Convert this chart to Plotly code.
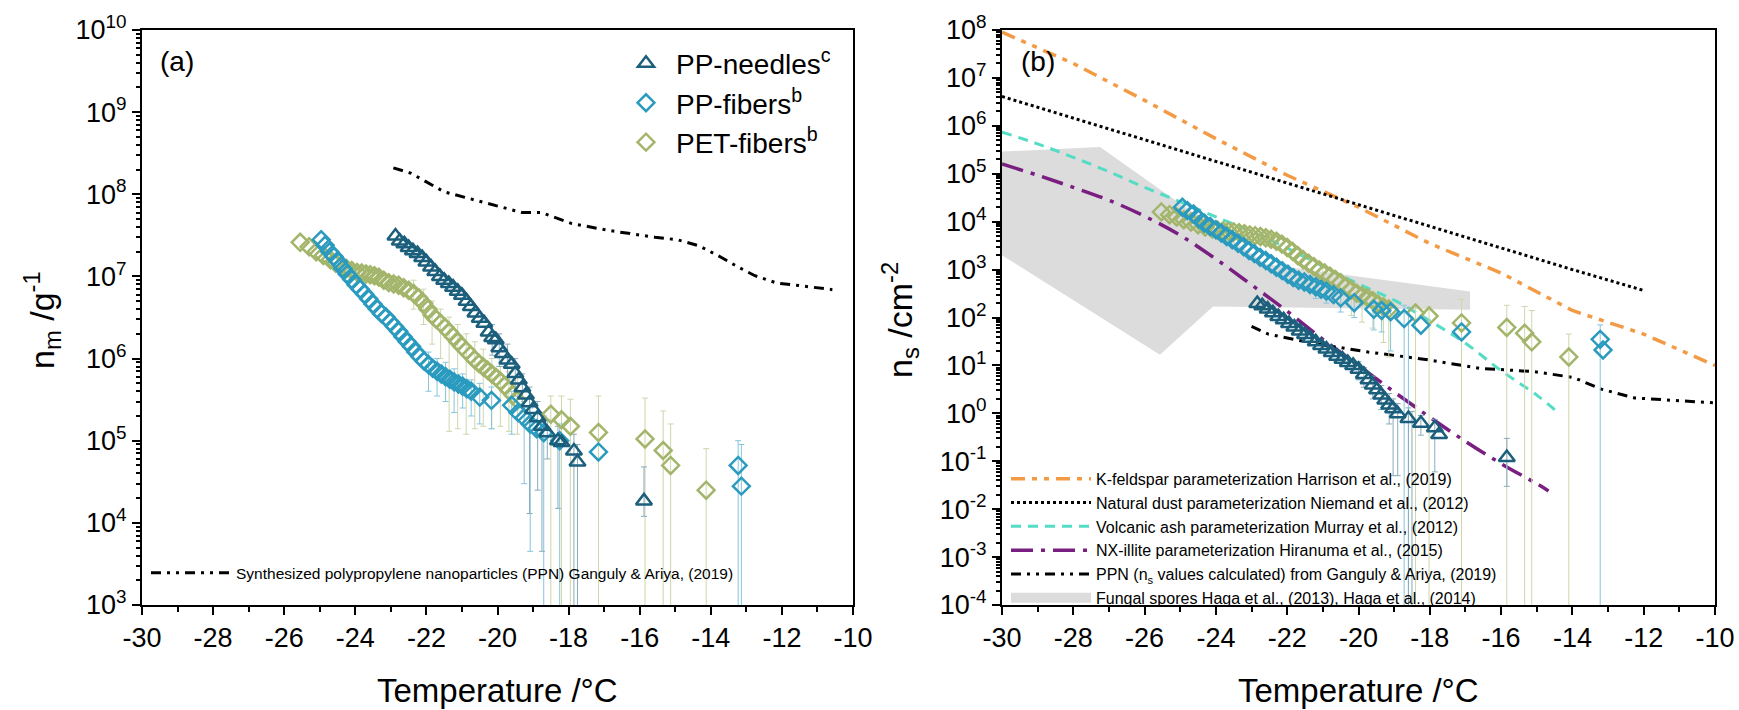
import plotly.graph_objects as go
import numpy as np

# ---------------- Panel (a): n_m (g^-1) ----------------
needles_T_a = [-22.87, -22.75, -22.62, -22.5, -22.38, -22.25, -22.12, -22.0, -21.87, -21.75,
               -21.62, -21.5, -21.37, -21.25, -21.12, -21.0, -20.87, -20.75, -20.62, -20.5,
               -20.37, -20.25, -20.15, -20.05, -19.95, -19.85, -19.72, -19.6, -19.5, -19.4,
               -19.3, -19.2, -19.1, -19.0, -18.87, -18.75, -18.6, -18.3, -18.2, -17.85, -17.75, -15.88]
needles_nm = [3.1e7, 2.7e7, 2.5e7, 2.25e7, 2.05e7, 1.9e7, 1.7e7, 1.5e7, 1.3e7, 1.15e7,
              1.0e7, 9.0e6, 8.2e6, 7.4e6, 6.6e6, 5.9e6, 5.0e6, 4.3e6, 3.6e6, 3.1e6,
              2.7e6, 2.1e6, 1.8e6, 1.7e6, 1.35e6, 1.15e6, 9.6e5, 8.5e5, 6.6e5, 5.5e5,
              4.4e5, 3.6e5, 2.9e5, 2.4e5, 1.9e5, 1.5e5, 1.25e5, 1.0e5, 9.5e4, 7.5e4, 5.5e4, 1.85e4]

fibers_T_a = [-24.96, -24.85, -24.72, -24.6, -24.47, -24.35, -24.23, -24.1, -23.98, -23.86,
              -23.74, -23.62, -23.5, -23.38, -23.26, -23.14, -23.02, -22.9, -22.78, -22.66,
              -22.54, -22.42, -22.3, -22.18, -22.06, -21.94, -21.82, -21.7, -21.58, -21.46,
              -21.34, -21.22, -21.1, -20.98, -20.86, -20.74, -20.5, -20.17, -19.6, -19.42,
              -19.25, -19.08, -18.9, -18.7, -18.25, -17.16, -13.23, -13.14]
fibers_nm = [2.8e7, 2.4e7, 2.0e7, 1.75e7, 1.5e7, 1.25e7, 1.07e7, 9.2e6, 7.9e6, 7.0e6,
             6.1e6, 5.3e6, 4.6e6, 4.0e6, 3.5e6, 3.2e6, 2.8e6, 2.45e6, 2.15e6, 1.85e6,
             1.6e6, 1.4e6, 1.2e6, 1.05e6, 9.3e5, 8.4e5, 7.6e5, 7.0e5, 6.5e5, 6.0e5,
             5.6e5, 5.2e5, 4.9e5, 4.6e5, 4.3e5, 4.0e5, 3.4e5, 3.1e5, 2.7e5, 2.2e5,
             1.9e5, 1.6e5, 1.4e5, 1.25e5, 1.0e5, 7.3e4, 5.0e4, 2.8e4]

pet_T_a = [-25.55, -25.3, -25.1, -24.9, -24.7, -24.55, -24.4, -24.25, -24.1, -23.95,
           -23.82, -23.7, -23.58, -23.46, -23.34, -23.2, -23.06, -22.92, -22.78, -22.64,
           -22.5, -22.36, -22.22, -22.08, -21.96, -21.84, -21.72, -21.6, -21.48, -21.36,
           -21.24, -21.12, -21.0, -20.88, -20.76, -20.64, -20.52, -20.4, -20.28, -20.16,
           -20.04, -19.92, -19.8, -19.68, -19.56, -19.44, -18.5, -18.2, -17.95, -17.16,
           -15.85, -15.34, -15.13, -14.13]
pet_nm = [2.6e7, 2.3e7, 2.0e7, 1.8e7, 1.6e7, 1.45e7, 1.35e7, 1.25e7, 1.18e7, 1.12e7,
          1.1e7, 1.07e7, 1.05e7, 1.02e7, 9.8e6, 9.0e6, 8.4e6, 8.1e6, 7.8e6, 7.3e6,
          6.8e6, 6.2e6, 5.5e6, 4.7e6, 4.0e6, 3.4e6, 3.0e6, 2.7e6, 2.4e6, 2.1e6,
          1.85e6, 1.6e6, 1.4e6, 1.25e6, 1.1e6, 9.7e5, 8.7e5, 7.9e5, 7.2e5, 6.5e5,
          5.9e5, 5.3e5, 4.7e5, 4.1e5, 3.6e5, 3.1e5, 2.1e5, 1.8e5, 1.5e5, 1.26e5,
          1.05e5, 7.6e4, 5.0e4, 2.5e4]

ppn_T_a = [-22.93, -22.43, -21.5, -20.41, -19.31, -18.77, -17.91, -16.82, -15.57, -14.94,
           -14.32, -13.7, -13.23, -12.76, -12.14, -11.36, -10.58]
ppn_nm = [2.1e8, 1.8e8, 1.07e8, 8.0e7, 6.0e7, 6.0e7, 4.4e7, 3.6e7, 3.0e7, 2.8e7,
          2.35e7, 1.7e7, 1.3e7, 1.02e7, 8.3e6, 7.6e6, 6.9e6]

# error bars (a): temperature, lower bound, upper bound
needles_errT_a = [-20.15, -19.95, -19.72, -19.5, -19.3, -19.1, -18.87, -18.75, -18.6, -18.3, -17.85, -17.75, -15.88]
needles_errlo_a = [1.1e6, 8e5, 5.5e5, 3.5e5, 2.3e5, 1.3e4, 2.5e4, 4.5e3, 6e4, 1.5e4, 1e-3, 1e-3, 1.2e4]
needles_errhi_a = [2.6e6, 2.0e6, 1.5e6, 1.0e6, 6.5e5, 4.5e5, 3e5, 2.2e5, 1.8e5, 1.5e5, 1.2e5, 9e4, 4.8e4]

fibers_errT_a = [-21.94, -21.7, -21.46, -21.22, -20.98, -20.74, -20.5, -20.17, -19.6, -19.25, -19.08, -18.7, -18.25, -13.23, -13.14]
fibers_errlo_a = [4e5, 3.5e5, 3e5, 2.2e5, 2.5e5, 2e5, 1.6e5, 1.4e5, 1.2e5, 3e4, 4.5e3, 1e-3, 1e-3, 1e-3, 1e-3]
fibers_errhi_a = [1.2e6, 1.0e6, 9e5, 7.5e5, 6.5e5, 5.5e5, 5e5, 4.5e5, 4e5, 3e5, 2.5e5, 2e5, 1.6e5, 1.0e5, 9e4]

pet_errT_a = [-22.36, -22.08, -21.84, -21.6, -21.36, -21.12, -20.88, -20.64, -20.4, -20.16, -19.92, -19.68,
              -19.44, -18.5, -18.2, -17.95, -17.16, -15.85, -15.34, -15.13, -14.13]
pet_errlo_a = [4e6, 2.6e6, 1.5e6, 1.0e6, 1.3e5, 1.4e5, 1.2e5, 1.4e5, 1.5e5, 1.4e5, 1.5e5, 1.3e5,
               1.2e5, 1e-3, 1e-3, 1e-3, 1e-3, 1e-3, 1e-3, 1e-3, 1e-3]
pet_errhi_a = [9e6, 7e6, 5e6, 4e6, 3.2e6, 2.6e6, 2.0e6, 1.6e6, 1.3e6, 1.0e6, 8e5, 7e5,
               6e5, 3.5e5, 3.5e5, 3.2e5, 3.5e5, 3.3e5, 2.3e5, 1.6e5, 8e4]

# ---------------- Panel (b): n_s (cm^-2) ----------------
needles_T_b = [-22.84, -22.7, -22.55, -22.4, -22.25, -22.1, -21.95, -21.8, -21.65, -21.5,
               -21.35, -21.2, -21.05, -20.9, -20.75, -20.6, -20.45, -20.3, -20.15, -20.0,
               -19.85, -19.72, -19.6, -19.48, -19.36, -19.25, -19.14, -19.03, -18.9, -18.6,
               -18.25, -17.86, -17.74, -15.84]
needles_ns = [195, 175, 150, 125, 105, 90, 75, 63, 52, 44,
              37, 31, 26, 22, 18.5, 15.5, 13.5, 11.5, 10, 8.3,
              6.5, 5.0, 3.9, 3.1, 2.4, 1.9, 1.5, 1.25, 0.98, 0.78,
              0.62, 0.5, 0.36, 0.12]

fibers_T_b = [-24.94, -24.8, -24.63, -24.48, -24.32, -24.16, -24.0, -23.85, -23.7, -23.54,
              -23.38, -23.22, -23.07, -22.92, -22.76, -22.6, -22.45, -22.3, -22.14, -21.98,
              -21.83, -21.68, -21.52, -21.36, -21.2, -21.05, -20.9, -20.7, -20.5, -20.12,
              -19.57, -19.35, -19.1, -18.72, -18.25, -17.11, -13.22, -13.14]
fibers_ns = [2.0e4, 1.7e4, 1.45e4, 1.15e4, 9.3e3, 7.9e3, 6.8e3, 5.8e3, 4.9e3, 4.2e3,
             3.55e3, 3.0e3, 2.5e3, 2.15e3, 1.8e3, 1.55e3, 1.32e3, 1.12e3, 950, 800,
             680, 600, 550, 490, 440, 390, 355, 300, 257, 204,
             148, 140, 132, 95, 69, 50, 35, 21]

pet_T_b = [-25.53, -25.3, -25.1, -24.9, -24.7, -24.5, -24.3, -24.1, -23.95, -23.8,
           -23.65, -23.5, -23.35, -23.2, -23.05, -22.9, -22.75, -22.6, -22.45, -22.3,
           -22.15, -22.0, -21.85, -21.7, -21.55, -21.4, -21.25, -21.1, -20.95, -20.8,
           -20.65, -20.5, -20.35, -20.2, -20.05, -19.9, -19.75, -19.6, -19.45, -19.3,
           -19.15, -18.4, -18.02, -17.11, -15.84, -15.34, -15.14, -14.1]
pet_ns = [1.6e4, 1.4e4, 1.25e4, 1.1e4, 9.8e3, 8.6e3, 7.7e3, 7.0e3, 6.6e3, 6.4e3,
          6.3e3, 6.1e3, 5.9e3, 5.6e3, 5.3e3, 5.1e3, 4.9e3, 4.6e3, 4.3e3, 3.9e3,
          3.4e3, 2.9e3, 2.4e3, 1.95e3, 1.6e3, 1.35e3, 1.15e3, 980, 850, 730,
          620, 530, 440, 380, 320, 285, 260, 225, 190, 165,
          150, 124, 107, 77, 62, 47, 31, 15]

needles_errT_b = [-20.0, -19.85, -19.6, -19.36, -19.14, -19.03, -18.9, -18.6, -18.5, -18.25, -17.86, -15.84]
needles_errlo_b = [5, 3.5, 2, 1.2, 0.6, 0.05, 0.05, 1e-6, 1e-6, 0.35, 0.06, 0.03]
needles_errhi_b = [12, 9, 6, 3.8, 2.6, 2.0, 1.6, 1.3, 1.1, 0.9, 0.75, 0.3]

fibers_errT_b = [-21.2, -20.9, -20.5, -20.12, -19.57, -19.35, -19.1, -18.72, -18.6, -13.22]
fibers_errlo_b = [250, 200, 130, 100, 55, 50, 20, 1e-6, 1e-6, 1e-6]
fibers_errhi_b = [560, 450, 330, 260, 200, 190, 180, 180, 160, 70]

pet_errT_b = [-21.0, -20.8, -20.5, -20.2, -19.9, -19.6, -19.3, -19.15, -18.4, -18.02, -17.11, -15.84, -15.34, -15.14, -14.1]
pet_errlo_b = [500, 350, 200, 110, 80, 60, 30, 15, 1e-6, 1e-6, 1e-6, 1e-6, 1e-6, 1e-6, 1e-6]
pet_errhi_b = [1300, 1000, 750, 500, 400, 330, 260, 220, 180, 170, 240, 180, 170, 140, 45]

kfeld_T = [-30, -28, -26, -24, -22, -20, -18, -16, -14, -12, -10]
kfeld_ns = [9e7, 2.0e7, 3.4e6, 5.4e5, 9.3e4, 2.0e4, 3.5e3, 8.5e2, 1.4e2, 4.5e1, 1.0e1]

niemand_T = [-30, -28, -26, -24, -22, -20, -18, -16, -14, -12.02]
niemand_ns = [4.1e6, 1.45e6, 5.2e5, 1.8e5, 6.5e4, 2.3e4, 8.1e3, 2.9e3, 1.0e3, 3.7e2]

murray_T = [-30, -29, -28, -27, -26, -25, -24, -23, -22, -21, -20, -19, -18, -17, -16, -15, -14.44]
murray_ns = [7.4e5, 4.2e5, 2.2e5, 1.1e5, 5.2e4, 2.6e4, 1.26e4, 6.2e3, 2.8e3, 1.17e3, 500, 230, 85, 29, 7.8, 2.4, 1.1]

hiranuma_T = [-30, -29, -28, -27, -26, -25, -24, -23, -22, -21, -20, -19, -18, -17, -16, -15, -14.67]
hiranuma_ns = [1.6e5, 9.3e4, 5.2e4, 2.8e4, 1.3e4, 5.2e3, 1.66e3, 4.8e2, 1.35e2, 35, 10, 2.8, 0.83, 0.26, 0.089, 0.034, 0.024]

ppn_T_b = [-23.0, -22.53, -21.28, -19.73, -18.17, -16.6, -15.06, -13.97, -13.19, -12.26, -11.17, -10.0]
ppn_ns = [65, 45, 29, 19, 13.5, 8.7, 7.4, 5.6, 3.2, 2.1, 1.86, 1.66]

fungal_T = [-30, -27.25, -22.6, -16.87, -16.87, -24.08, -25.57, -30]
fungal_ns = [2.9e5, 3.6e5, 1.3e3, 3.5e2, 1.45e2, 1.7e2, 1.66e1, 2.0e3]

x_ticks = [-30, -28, -26, -24, -22, -20, -18, -16, -14, -12, -10]
ya_exps = list(range(3, 11))
yb_exps = list(range(-4, 9))

# ---------------- styling ----------------
FONT = "Liberation Sans, Arial, sans-serif"
C_NEED = "#1b5f7c"
C_FIB = "#2a9bbf"
C_PET = "#a3b56b"
E_NEED = "#8aabbc"
E_FIB = "#86c5dc"
E_PET = "#cdd7ab"
C_FUNGAL = "#dcdcdc"

fig = go.Figure()


def err_trace(T, lo, hi, color, xa, ya):
    hi = np.array(hi, dtype=float)
    lo = np.array(lo, dtype=float)
    return go.Scatter(
        x=T, y=hi, mode="markers", marker=dict(size=1, opacity=0),
        error_y=dict(type="data", symmetric=False, array=np.zeros(len(hi)),
                     arrayminus=hi - lo, color=color, thickness=1, width=3),
        showlegend=False, hoverinfo="skip", xaxis=xa, yaxis=ya)


# panel (a)
fig.add_trace(go.Scatter(x=ppn_T_a, y=ppn_nm, mode="lines",
                         line=dict(color="black", width=3, dash="10px,6px,3px,6px,3px,6px"),
                         name="Synthesized polypropylene nanoparticles (PPN) Ganguly & Ariya, (2019)",
                         legend="legend3", xaxis="x", yaxis="y"))
fig.add_trace(err_trace(pet_errT_a, pet_errlo_a, pet_errhi_a, E_PET, "x", "y"))
fig.add_trace(err_trace(fibers_errT_a, fibers_errlo_a, fibers_errhi_a, E_FIB, "x", "y"))
fig.add_trace(err_trace(needles_errT_a, needles_errlo_a, needles_errhi_a, E_NEED, "x", "y"))

fig.add_trace(go.Scatter(x=pet_T_a, y=pet_nm, mode="markers", name="PET-fibers<sup>b</sup>",
                         marker=dict(symbol="diamond-open", size=13, color=C_PET, line=dict(width=2.5)),
                         legend="legend", legendgroup="g3", legendrank=3, xaxis="x", yaxis="y"))
fig.add_trace(go.Scatter(x=fibers_T_a, y=fibers_nm, mode="markers", name="PP-fibers<sup>b</sup>",
                         marker=dict(symbol="diamond-open", size=13, color=C_FIB, line=dict(width=2.5)),
                         legend="legend", legendgroup="g2", legendrank=2, xaxis="x", yaxis="y"))
fig.add_trace(go.Scatter(x=needles_T_a, y=needles_nm, mode="markers", name="PP-needles<sup>c</sup>",
                         marker=dict(symbol="triangle-up-open", size=14, color=C_NEED, line=dict(width=2.5)),
                         legend="legend", legendgroup="g1", legendrank=1, xaxis="x", yaxis="y"))

# panel (b)
fig.add_trace(go.Scatter(x=fungal_T, y=fungal_ns, mode="none", fill="toself", fillcolor=C_FUNGAL,
                         showlegend=False, xaxis="x2", yaxis="y2"))
# legend swatch for the fungal-spore region (legend-only entry)
fig.add_trace(go.Scatter(x=[None], y=[None], mode="lines",
                         line=dict(color=C_FUNGAL, width=15),
                         name="Fungal spores Haga et al., (2013), Haga et al., (2014)",
                         legend="legend2", legendrank=6, xaxis="x2", yaxis="y2"))
fig.add_trace(go.Scatter(x=kfeld_T, y=kfeld_ns, mode="lines",
                         line=dict(color="#f39a45", width=3.5, dash="14px,7px,5px,7px,5px,7px"),
                         name="K-feldspar parameterization Harrison et al., (2019)",
                         legend="legend2", legendrank=1, xaxis="x2", yaxis="y2"))
fig.add_trace(go.Scatter(x=niemand_T, y=niemand_ns, mode="lines",
                         line=dict(color="black", width=3, dash="dot"),
                         name="Natural dust parameterization Niemand et al., (2012)",
                         legend="legend2", legendrank=2, xaxis="x2", yaxis="y2"))
fig.add_trace(go.Scatter(x=murray_T, y=murray_ns, mode="lines", line_shape="spline",
                         line=dict(color="#55dcc4", width=3, dash="10px,7px"),
                         name="Volcanic ash parameterization Murray et al., (2012)",
                         legend="legend2", legendrank=3, xaxis="x2", yaxis="y2"))
fig.add_trace(go.Scatter(x=hiranuma_T, y=hiranuma_ns, mode="lines", line_shape="spline",
                         line=dict(color="#7a1f82", width=3.5, dash="22px,8px,4px,8px"),
                         name="NX-illite parameterization Hiranuma et al., (2015)",
                         legend="legend2", legendrank=4, xaxis="x2", yaxis="y2"))
fig.add_trace(go.Scatter(x=ppn_T_b, y=ppn_ns, mode="lines",
                         line=dict(color="black", width=3, dash="10px,6px,3px,6px,3px,6px"),
                         name="PPN (n<sub>s</sub> values calculated) from Ganguly & Ariya, (2019)",
                         legend="legend2", legendrank=5, xaxis="x2", yaxis="y2"))

fig.add_trace(err_trace(pet_errT_b, pet_errlo_b, pet_errhi_b, E_PET, "x2", "y2"))
fig.add_trace(err_trace(fibers_errT_b, fibers_errlo_b, fibers_errhi_b, E_FIB, "x2", "y2"))
fig.add_trace(err_trace(needles_errT_b, needles_errlo_b, needles_errhi_b, E_NEED, "x2", "y2"))

fig.add_trace(go.Scatter(x=pet_T_b, y=pet_ns, mode="markers", showlegend=False,
                         marker=dict(symbol="diamond-open", size=13, color=C_PET, line=dict(width=2.5)),
                         xaxis="x2", yaxis="y2"))
fig.add_trace(go.Scatter(x=fibers_T_b, y=fibers_ns, mode="markers", showlegend=False,
                         marker=dict(symbol="diamond-open", size=13, color=C_FIB, line=dict(width=2.5)),
                         xaxis="x2", yaxis="y2"))
fig.add_trace(go.Scatter(x=needles_T_b, y=needles_ns, mode="markers", showlegend=False,
                         marker=dict(symbol="triangle-up-open", size=14, color=C_NEED, line=dict(width=2.5)),
                         xaxis="x2", yaxis="y2"))

W, H = 1739, 710
ML, MT, MB = 0, 30, 105

xcommon = dict(range=[-30, -10], tickvals=x_ticks, ticktext=[str(v) for v in x_ticks],
               ticks="outside", ticklen=8, tickwidth=2, tickcolor="black",
               showline=True, linewidth=2, linecolor="black", mirror=True,
               showgrid=False, zeroline=False, automargin=False,
               tickfont=dict(family=FONT, size=27, color="black"),
               minor=dict(ticks="outside", ticklen=5, tickwidth=2, tickcolor="black", dtick=1, showgrid=False))


def ycommon(exps):
    return dict(type="log", range=[exps[0], exps[-1]],
                tickvals=[10.0 ** e for e in exps],
                ticktext=["10<sup>%d</sup>" % e for e in exps],
                ticks="outside", ticklen=8, tickwidth=2, tickcolor="black",
                showline=True, linewidth=2, linecolor="black", mirror=True,
                showgrid=False, zeroline=False, automargin=False,
                tickfont=dict(family=FONT, size=27, color="black"),
                minor=dict(ticks="outside", ticklen=4, tickwidth=1.5, tickcolor="black",
                           dtick="D1", showgrid=False))


fig.update_layout(
    template="none",
    width=W, height=H,
    margin=dict(l=ML, r=0, t=MT, b=MB, autoexpand=False),
    paper_bgcolor="white", plot_bgcolor="white",
    font=dict(family=FONT, color="black"),
    xaxis=dict(domain=[142 / W, 853 / W], anchor="y", **xcommon),
    yaxis=dict(domain=[0, 1], anchor="x", **ycommon(ya_exps)),
    xaxis2=dict(domain=[1002 / W, 1715 / W], anchor="y2", **xcommon),
    yaxis2=dict(domain=[0, 1], anchor="x2", **ycommon(yb_exps)),
    legend=dict(x=616 / W, xanchor="left", y=0.985, yanchor="top",
                font=dict(family=FONT, size=28, color="black"),
                bgcolor="rgba(0,0,0,0)", tracegroupgap=4, itemwidth=50,
                traceorder="normal"),
    legend3=dict(x=146 / W, xanchor="left", y=0.085, yanchor="top",
                 font=dict(family=FONT, size=15.5, color="black"),
                 bgcolor="rgba(0,0,0,0)", itemwidth=80),
    legend2=dict(x=1006 / W, xanchor="left", y=0.249, yanchor="top",
                 font=dict(family=FONT, size=16, color="black"),
                 bgcolor="rgba(0,0,0,0)", itemwidth=80, traceorder="normal"),
    annotations=[
        dict(text="(a)", x=158 / W, y=61, xref="paper", yref="paper", showarrow=False,
             xanchor="left", yanchor="middle", font=dict(family=FONT, size=28)),
        dict(text="(b)", x=1019 / W, y=61, xref="paper", yref="paper", showarrow=False,
             xanchor="left", yanchor="middle", font=dict(family=FONT, size=28)),
        dict(text="Temperature /°C", x=497.5 / W, y=690, xref="paper", yref="paper", showarrow=False,
             xanchor="center", yanchor="middle", font=dict(family=FONT, size=33)),
        dict(text="Temperature /°C", x=1358.5 / W, y=690, xref="paper", yref="paper", showarrow=False,
             xanchor="center", yanchor="middle", font=dict(family=FONT, size=33)),
        dict(text="n<sub>m</sub> /g<sup>-1</sup>", x=42 / W, y=320, xref="paper", yref="paper",
             showarrow=False, textangle=-90, xanchor="center", yanchor="middle",
             font=dict(family=FONT, size=34)),
        dict(text="n<sub>s</sub> /cm<sup>-2</sup>", x=900 / W, y=320, xref="paper", yref="paper",
             showarrow=False, textangle=-90, xanchor="center", yanchor="middle",
             font=dict(family=FONT, size=34)),
    ],
)

# convert pixel y positions of annotations (from top) into paper coords
plot_h = H - MT - MB
for ann in fig.layout.annotations:
    ann.y = (H - MB - ann.y) / plot_h

fig.write_html("out.html")
